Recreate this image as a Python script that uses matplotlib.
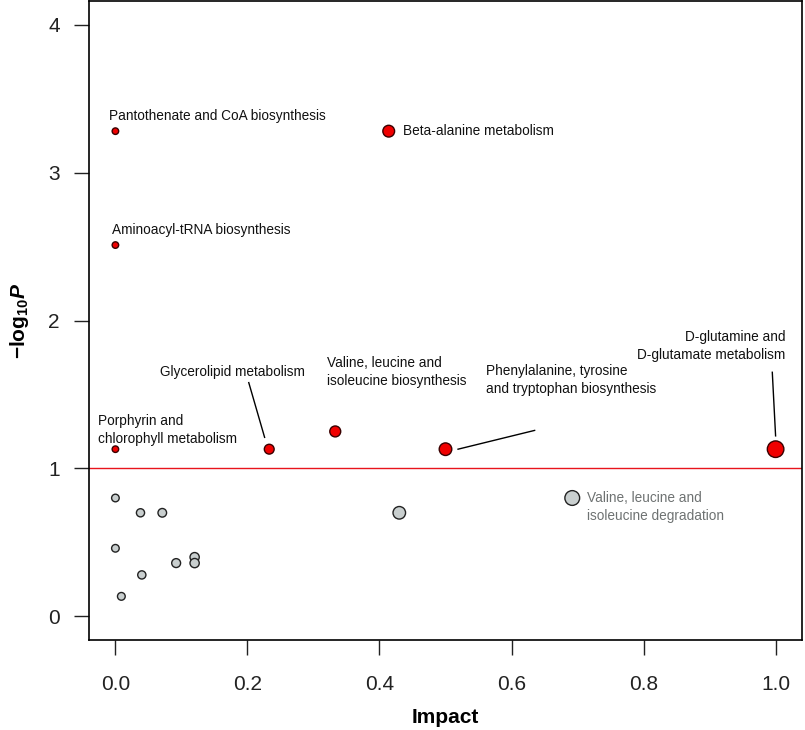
import matplotlib
matplotlib.use('Agg')
import matplotlib.pyplot as plt
import numpy as np

plt.rcParams['font.family'] = ['Liberation Sans', 'DejaVu Sans']
plt.rcParams['mathtext.fontset'] = 'custom'
plt.rcParams['mathtext.rm'] = 'Liberation Sans'
plt.rcParams['mathtext.bf'] = 'Liberation Sans:bold'
plt.rcParams['mathtext.it'] = 'Liberation Sans:italic'
plt.rcParams['mathtext.bfit'] = 'Liberation Sans:bold:italic'

# significant pathways (red)
sig_names = ['Pantothenate and CoA biosynthesis', 'Aminoacyl-tRNA biosynthesis',
             'Porphyrin and\nchlorophyll metabolism', 'Glycerolipid metabolism',
             'Valine, leucine and\nisoleucine biosynthesis', 'Beta-alanine metabolism',
             'Phenylalanine, tyrosine\nand tryptophan biosynthesis',
             'D-glutamine and\nD-glutamate metabolism']
sig_impact = [0.0, 0.0, 0.0, 0.233, 0.333, 0.414, 0.5, 1.0]
sig_logp = [3.28, 2.51, 1.13, 1.13, 1.25, 3.28, 1.13, 1.13]

# non-significant pathways (grey)
ns_impact = [0.692, 0.43, 0.0, 0.038, 0.071, 0.0, 0.04, 0.009, 0.092, 0.12, 0.12]
ns_logp = [0.80, 0.70, 0.80, 0.70, 0.70, 0.46, 0.28, 0.135, 0.36, 0.40, 0.36]
ns_label = 'Valine, leucine and\nisoleucine degradation'

threshold = 1.0

def msize(imp, base):
    return base + 120 * np.asarray(imp)

fig = plt.figure(figsize=(8.05, 7.3), dpi=100)
ax = fig.add_axes([89/805, 90/730, 713/805, 639/730])

ax.axhline(threshold, color='#e8141c', lw=1.0, zorder=1)
ax.scatter(ns_impact, ns_logp, s=msize(ns_impact, 30), c='#c9cfcf',
           edgecolors='#222222', linewidths=1.0, zorder=3)
ax.scatter(sig_impact, sig_logp, s=msize(sig_impact, 22), c='#f00000',
           edgecolors='#3a0000', linewidths=1.0, zorder=3)

fs = 9.8
# (x, y, ha) for labels
lab_pos = [(-0.009, 3.38, 'left'), (-0.005, 2.61, 'left'), (-0.027, 1.26, 'left'),
           (0.177, 1.655, 'center'), (0.321, 1.65, 'left'), (0.435, 3.28, 'left'),
           (0.561, 1.595, 'left'), (1.015, 1.83, 'right')]
for name, (tx, ty, ha) in zip(sig_names, lab_pos):
    ax.text(tx, ty, name, fontsize=fs, ha=ha, va='center', color='#111111',
            linespacing=1.35, zorder=4)

ax.text(0.715, 0.74, ns_label, fontsize=fs, ha='left', va='center',
        color='#6e7272', linespacing=1.35)

# leader lines
ax.plot([0.202, 0.226], [1.58, 1.21], color='black', lw=1.0)
ax.plot([0.519, 0.635], [1.13, 1.257], color='black', lw=1.0)
ax.plot([0.995, 1.0], [1.65, 1.22], color='black', lw=1.0)

ax.set_xlim(-0.04, 1.04)
ax.set_ylim(-0.16, 4.16)
ax.set_xticks(np.arange(0, 1.01, 0.2))
ax.set_xticklabels(['0.0', '0.2', '0.4', '0.6', '0.8', '1.0'])
ax.set_yticks([0, 1, 2, 3, 4])
ax.tick_params(axis='both', length=11, width=1.0, labelsize=15, pad=14,
               colors='#222222')
ax.tick_params(axis='y', pad=10)
for sp in ax.spines.values():
    sp.set_linewidth(1.2)

ax.set_xlabel('Impact', fontsize=15, fontweight='bold', labelpad=10)
ax.set_ylabel(r'$\mathbf{-log}_{\mathbf{10}}\mathbfit{P}$', fontsize=15, labelpad=12)

fig.savefig('out.png', dpi=100)
